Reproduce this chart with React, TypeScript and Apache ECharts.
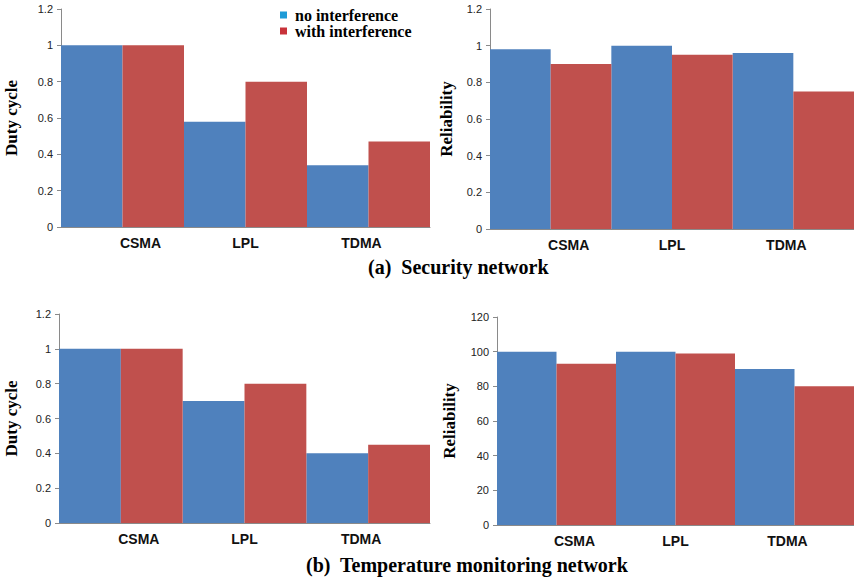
import React, { useEffect, useRef } from "react";
import * as echarts from "echarts";

const categories = ["CSMA", "LPL", "TDMA"];
const seriesNames = ["no interference", "with interference"];

const secDutyNo = [1.0, 0.58, 0.34];
const secDutyWith = [1.0, 0.8, 0.47];
const secRelNo = [0.98, 1.0, 0.96];
const secRelWith = [0.9, 0.95, 0.75];

const tempDutyNo = [1.0, 0.7, 0.4];
const tempDutyWith = [1.0, 0.8, 0.45];
const tempRelNo = [100, 100, 90];
const tempRelWith = [93, 99, 80];

const captionA = "(a)  Security network";
const captionB = "(b)  Temperature monitoring network";

const BLUE = "#4f81bd";
const RED = "#c0504d";

export default function App() {
  const ref = useRef<HTMLDivElement>(null);
  useEffect(() => {
    if (!ref.current) return;
    const chart = echarts.init(ref.current, null, { renderer: "svg" });
    const grids = [
      { left: 61, top: 9, width: 369, height: 218 },
      { left: 490, top: 9, width: 372, height: 220 },
      { left: 59, top: 314, width: 371, height: 209 },
      { left: 497, top: 317, width: 367, height: 208 },
    ];
    const xAxis = grids.map((_, i) => ({
      type: "category",
      gridIndex: i,
      data: categories,
      axisLine: { lineStyle: { color: "#8a8a8a", width: 1 } },
      axisTick: { show: false },
      axisLabel: {
        interval: 0,
        margin: 9,
        formatter: (v: string) =>
          v === "CSMA" ? "{c|" + v + "}" : v === "TDMA" ? "{t|" + v + "}" : "{l|" + v + "}",
        rich: {
          c: { fontFamily: "Liberation Sans", fontWeight: "bold", fontSize: 14, color: "#111", padding: [0, 0, 0, 36] },
          l: { fontFamily: "Liberation Sans", fontWeight: "bold", fontSize: 14, color: "#111" },
          t: { fontFamily: "Liberation Sans", fontWeight: "bold", fontSize: 14, color: "#111", padding: [0, 14, 0, 0] },
        },
      },
    }));
    const yCommon = {
      type: "value",
      nameLocation: "middle",
      nameTextStyle: { fontFamily: "Liberation Serif", fontWeight: "bold", fontSize: 17, color: "#000" },
      splitLine: { show: false },
      axisLine: { show: true, lineStyle: { color: "#8a8a8a", width: 1 } },
      axisTick: { show: true, length: 4, lineStyle: { color: "#8a8a8a" } },
      axisLabel: { fontFamily: "Liberation Sans", fontSize: 11, color: "#222", margin: 8 },
    };
    const yAxis = [
      { ...yCommon, gridIndex: 0, name: "Duty cycle", nameGap: 41, min: 0, max: 1.2, interval: 0.2 },
      { ...yCommon, gridIndex: 1, name: "Reliability", nameGap: 35, min: 0, max: 1.2, interval: 0.2 },
      { ...yCommon, gridIndex: 2, name: "Duty cycle", nameGap: 39, min: 0, max: 1.2, interval: 0.2 },
      { ...yCommon, gridIndex: 3, name: "Reliability", nameGap: 39, min: 0, max: 120, interval: 20 },
    ];
    const pairs = [
      [secDutyNo, secDutyWith],
      [secRelNo, secRelWith],
      [tempDutyNo, tempDutyWith],
      [tempRelNo, tempRelWith],
    ];
    const series: any[] = [];
    pairs.forEach((p, i) => {
      series.push({
        type: "bar",
        name: seriesNames[0],
        xAxisIndex: i,
        yAxisIndex: i,
        data: p[0],
        barGap: "0%",
        barCategoryGap: "0%",
        itemStyle: { color: BLUE },
      });
      series.push({
        type: "bar",
        name: seriesNames[1],
        xAxisIndex: i,
        yAxisIndex: i,
        data: p[1],
        barGap: "0%",
        barCategoryGap: "0%",
        itemStyle: { color: RED },
      });
    });
    chart.setOption({
      animation: false,
      backgroundColor: "#ffffff",
      grid: grids,
      xAxis,
      yAxis,
      series,
      legend: {
        left: 275,
        top: 2,
        orient: "vertical",
        itemWidth: 7,
        itemHeight: 7,
        itemGap: 0,
        icon: "rect",
        data: [
          { name: seriesNames[0], itemStyle: { color: "#1e9bd7" } },
          { name: seriesNames[1], itemStyle: { color: "#c8323a" } },
        ],
        textStyle: { fontFamily: "Liberation Serif", fontWeight: "bold", fontSize: 16, color: "#000", padding: [0, 0, 0, 3] },
      },
      graphic: [
        {
          type: "text",
          left: 368,
          top: 257,
          style: { text: captionA, font: "bold 20px 'Liberation Serif'", fill: "#000" },
        },
        {
          type: "text",
          left: 306,
          top: 555,
          style: { text: captionB, font: "bold 20px 'Liberation Serif'", fill: "#000" },
        },
      ],
    });
    return () => chart.dispose();
  }, []);
  return (
    <div
      ref={ref}
      style={{ position: "fixed", left: 0, top: 0, width: 854, height: 584 }}
    />
  );
}
